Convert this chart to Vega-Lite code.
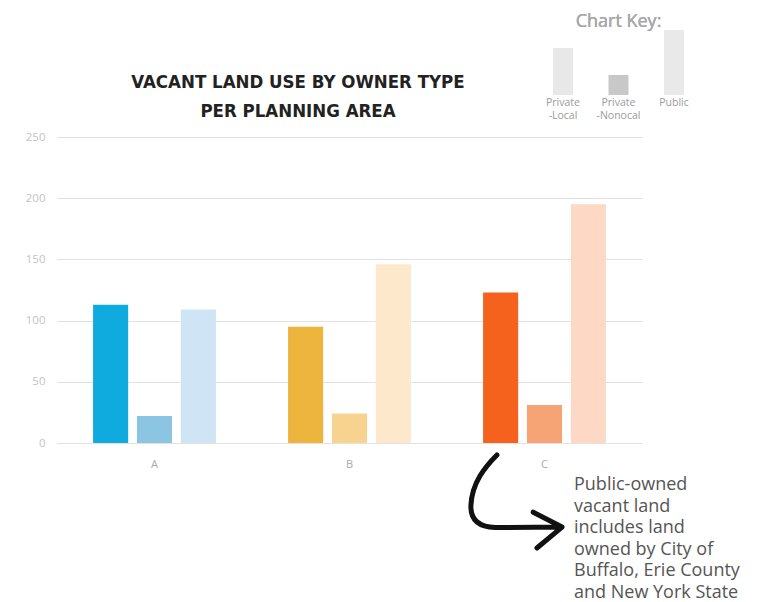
{
  "$schema": "https://vega.github.io/schema/vega-lite/v6.json",
  "width": 585,
  "height": 306,
  "autosize": {"type": "none"},
  "padding": {"left": 57, "top": 137, "right": 125, "bottom": 159},
  "background": "white",
  "config": {"view": {"stroke": null}, "font": "Open Sans"},
  "datasets": {
    "main": [
      {"area": "A", "owner": "Private-Local", "acres": 113, "bar": "A Private-Local"},
      {"area": "A", "owner": "Private-Nonlocal", "acres": 22, "bar": "A Private-Nonlocal"},
      {"area": "A", "owner": "Public", "acres": 109, "bar": "A Public"},
      {"area": "B", "owner": "Private-Local", "acres": 95, "bar": "B Private-Local"},
      {"area": "B", "owner": "Private-Nonlocal", "acres": 24, "bar": "B Private-Nonlocal"},
      {"area": "B", "owner": "Public", "acres": 146, "bar": "B Public"},
      {"area": "C", "owner": "Private-Local", "acres": 123, "bar": "C Private-Local"},
      {"area": "C", "owner": "Private-Nonlocal", "acres": 31, "bar": "C Private-Nonlocal"},
      {"area": "C", "owner": "Public", "acres": 195, "bar": "C Public"}
    ],
    "key": [
      {"kind": "Private-Local", "h": 47, "label": "Private\n-Local"},
      {"kind": "Private-Nonocal", "h": 20, "label": "Private\n-Nonocal"},
      {"kind": "Public", "h": 65, "label": "Public"}
    ],
    "note": [
      {"note": "Public-owned\nvacant land\nincludes land\nowned by City of\nBuffalo, Erie County\nand New York State",
       "title": "VACANT LAND USE BY OWNER TYPE\nPER PLANNING AREA"}
    ]
  },
  "layer": [
    {
      "layer": [
        {
          "data": {"name": "main"},
          "mark": {"type": "bar"},
          "encoding": {
            "x": {
              "field": "area",
              "type": "nominal",
              "scale": {"paddingInner": 0.37, "paddingOuter": 0.185},
              "axis": {"labelAngle": 0, "title": null, "domain": false, "ticks": false, "labelColor": "#aaaaaa", "labelFontSize": 11, "labelPadding": 15}
            },
            "xOffset": {
              "field": "owner",
              "type": "nominal",
              "scale": {"domain": ["Private-Local", "Private-Nonlocal", "Public"], "paddingInner": 0.2, "paddingOuter": 0}
            },
            "y": {
              "field": "acres",
              "type": "quantitative",
              "scale": {"domain": [0, 250], "nice": false},
              "axis": {"values": [0, 50, 100, 150, 200, 250], "title": null, "domain": false, "ticks": false, "gridColor": "#e2e2e2", "labelColor": "#c4c4c4", "labelFontSize": 11.5, "labelPadding": 12}
            },
            "color": {
              "field": "bar",
              "type": "nominal",
              "scale": {
                "domain": ["A Private-Local", "A Private-Nonlocal", "A Public", "B Private-Local", "B Private-Nonlocal", "B Public", "C Private-Local", "C Private-Nonlocal", "C Public"],
                "range": ["#0FABDF", "#8CC5E2", "#CFE4F4", "#EDB43E", "#F8D38F", "#FDE8CC", "#F4621E", "#F6A375", "#FDD8C4"]
              },
              "legend": null
            }
          }
        },
        {
          "data": {"name": "note"},
          "mark": {"type": "text", "align": "center", "baseline": "alphabetic", "dx": -51.5, "fontSize": 18.5, "fontWeight": "bold", "lineHeight": 29, "color": "#222222", "font": "DejaVu Sans Condensed", "lineBreak": "\n"},
          "encoding": {
            "x": {"datum": "B"},
            "y": {"datum": 290},
            "text": {"field": "title"}
          }
        },
        {
          "data": {"name": "note"},
          "mark": {"type": "text", "align": "left", "baseline": "alphabetic", "dx": 29.5, "fontSize": 18, "lineHeight": 21.6, "color": "#555555", "font": "Open Sans", "lineBreak": "\n"},
          "encoding": {
            "x": {"datum": "C"},
            "y": {"datum": -38.4},
            "text": {"field": "note"}
          }
        },
        {
          "data": {"name": "note"},
          "mark": {
            "type": "point",
            "shape": "M-0.41,-0.99 C-0.65,-0.75 -0.95,-0.40 -0.97,0.10 C-0.98,0.45 -0.75,0.56 -0.45,0.57 L0.99,0.56 M0.37,0.24 L0.99,0.56 L0.45,1.01",
            "size": 8650,
            "filled": false,
            "stroke": "#111111",
            "strokeWidth": 5,
            "strokeCap": "round",
            "strokeJoin": "round",
            "opacity": 1,
            "xOffset": -28.5
          },
          "encoding": {
            "x": {"datum": "C"},
            "y": {"datum": -47.4}
          }
        }
      ]
    },
    {
      "data": {"name": "key"},
      "layer": [
        {
          "mark": {"type": "bar", "width": 20},
          "encoding": {
            "x": {"field": "kind", "type": "nominal", "scale": {"type": "point", "domain": ["Private-Local", "Private-Nonocal", "Public"], "range": [506, 617], "padding": 0}, "axis": null},
            "y": {"field": "h", "type": "quantitative", "scale": {"domain": [0, 65], "range": [-42, -107], "nice": false}, "axis": null},
            "color": {"field": "kind", "type": "nominal", "scale": {"domain": ["Private-Local", "Private-Nonocal", "Public"], "range": ["#e8e8e8", "#c8c8c8", "#e9e9e9"]}, "legend": null}
          }
        },
        {
          "mark": {"type": "text", "baseline": "top", "align": "center", "fontSize": 10.5, "lineHeight": 13, "color": "#9a9a9a", "lineBreak": "\n"},
          "encoding": {
            "x": {"field": "kind", "type": "nominal"},
            "y": {"datum": -3},
            "text": {"field": "label"}
          }
        },
        {
          "mark": {"type": "text", "baseline": "middle", "align": "center", "fontSize": 18, "fontWeight": "normal", "color": "#a8a8a8"},
          "encoding": {
            "x": {"datum": "Private-Nonocal"},
            "y": {"datum": 73},
            "text": {"value": "Chart Key:"}
          }
        }
      ]
    }
  ],
  "resolve": {"scale": {"x": "independent", "y": "independent", "color": "independent"}}
}
